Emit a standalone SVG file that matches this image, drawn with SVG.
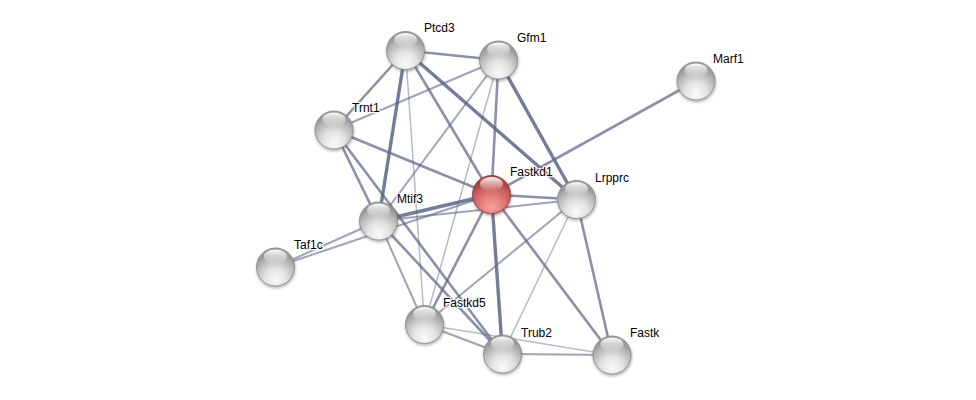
<svg xmlns="http://www.w3.org/2000/svg" width="976" height="400" viewBox="0 0 976 400">
<defs>
<radialGradient id="gGray" cx="50%" cy="78%" r="65%" fx="50%" fy="85%">
<stop offset="0" stop-color="#fbfbfb"/>
<stop offset="0.45" stop-color="#e2e2e2"/>
<stop offset="0.8" stop-color="#b8b8b8"/>
<stop offset="1" stop-color="#9a9a9a"/>
</radialGradient>
<radialGradient id="gRed" cx="50%" cy="78%" r="65%" fx="50%" fy="85%">
<stop offset="0" stop-color="#f8a0a0"/>
<stop offset="0.45" stop-color="#e57d7d"/>
<stop offset="0.8" stop-color="#c85c5c"/>
<stop offset="1" stop-color="#a84242"/>
</radialGradient>
<linearGradient id="gHi" x1="0" y1="0" x2="0" y2="1">
<stop offset="0" stop-color="#ffffff" stop-opacity="0.95"/>
<stop offset="1" stop-color="#ffffff" stop-opacity="0"/>
</linearGradient>
<filter id="sh" x="-30%" y="-30%" width="160%" height="160%">
<feGaussianBlur stdDeviation="1.5"/>
</filter>
<g id="nodeGray">
<circle cx="0.5" cy="1.8" r="19.5" fill="#555" opacity="0.45" filter="url(#sh)"/>
<circle r="19" fill="url(#gGray)" stroke="#8a8a8a" stroke-width="0.8"/>
<ellipse cx="0" cy="-10.5" rx="11.5" ry="7" fill="url(#gHi)"/>
</g>
<g id="nodeRed">
<circle cx="0.5" cy="1.8" r="19.5" fill="#552020" opacity="0.45" filter="url(#sh)"/>
<circle r="19" fill="url(#gRed)" stroke="#8e3a3a" stroke-width="0.8"/>
<ellipse cx="0" cy="-10.5" rx="11.5" ry="7" fill="url(#gHi)"/>
</g>
</defs>
<style>
.e{stroke:#5d6587;fill:none;stroke-linecap:butt}
.w1{stroke-width:1.5;stroke-opacity:0.45}
.w2{stroke-width:2;stroke-opacity:0.6}
.w3{stroke-width:2.6;stroke-opacity:0.72}
.w4{stroke-width:3.4;stroke-opacity:0.85}
.lbl{font-family:"Liberation Sans",Arial,sans-serif;font-size:12px;fill:#000;stroke:#fff;stroke-width:2.5;stroke-opacity:0.8;paint-order:stroke;stroke-linejoin:round}
</style>
<rect width="976" height="400" fill="#fff"/>
<g id="edges">
<line class="e w3" x1="405.5" y1="50.5" x2="498.5" y2="60"/>
<line class="e w3" x1="405.5" y1="50.5" x2="334" y2="130"/>
<line class="e w4" x1="405.5" y1="50.5" x2="378.5" y2="221"/>
<line class="e w1" x1="405.5" y1="50.5" x2="424.5" y2="324.5"/>
<line class="e w3" x1="405.5" y1="50.5" x2="491.5" y2="194.5"/>
<line class="e w4" x1="405.5" y1="50.5" x2="576.5" y2="199.5"/>
<line class="e w2" x1="498.5" y1="60" x2="334" y2="130"/>
<line class="e w2" x1="498.5" y1="60" x2="378.5" y2="221"/>
<line class="e w3" x1="498.5" y1="60" x2="491.5" y2="194.5"/>
<line class="e w1" x1="498.5" y1="60" x2="424.5" y2="324.5"/>
<line class="e w4" x1="498.5" y1="60" x2="576.5" y2="199.5"/>
<line class="e w3" x1="334" y1="130" x2="491.5" y2="194.5"/>
<line class="e w3" x1="334" y1="130" x2="378.5" y2="221"/>
<line class="e w3" x1="334" y1="130" x2="502.5" y2="354"/>
<line class="e w3" x1="696" y1="81" x2="491.5" y2="194.5"/>
<line class="e w4" x1="378.5" y1="221" x2="491.5" y2="194.5"/>
<line class="e w2" x1="378.5" y1="221" x2="576.5" y2="199.5"/>
<line class="e w2" x1="275.5" y1="267" x2="378.5" y2="221"/>
<line class="e w2" x1="275.5" y1="267" x2="491.5" y2="194.5"/>
<line class="e w3" x1="491.5" y1="194.5" x2="576.5" y2="199.5"/>
<line class="e w3" x1="491.5" y1="194.5" x2="424.5" y2="324.5"/>
<line class="e w4" x1="491.5" y1="194.5" x2="502.5" y2="354"/>
<line class="e w3" x1="491.5" y1="194.5" x2="612" y2="355"/>
<line class="e w2" x1="576.5" y1="199.5" x2="424.5" y2="324.5"/>
<line class="e w1" x1="576.5" y1="199.5" x2="502.5" y2="354"/>
<line class="e w3" x1="576.5" y1="199.5" x2="612" y2="355"/>
<line class="e w2" x1="424.5" y1="324.5" x2="502.5" y2="354"/>
<line class="e w1" x1="424.5" y1="324.5" x2="612" y2="355"/>
<line class="e w2" x1="502.5" y1="354" x2="612" y2="355"/>
<line class="e w2" x1="378.5" y1="221" x2="424.5" y2="324.5"/>
<line class="e w3" x1="378.5" y1="221" x2="502.5" y2="354"/>
</g>
<g id="Ptcd3"><use href="#nodeGray" x="405.5" y="50.5"/><text class="lbl" x="424" y="32">Ptcd3</text></g>
<g id="Gfm1"><use href="#nodeGray" x="498.5" y="60"/><text class="lbl" x="517" y="42">Gfm1</text></g>
<g id="Marf1"><use href="#nodeGray" x="696" y="81"/><text class="lbl" x="713" y="63">Marf1</text></g>
<g id="Trnt1"><use href="#nodeGray" x="334" y="130"/><text class="lbl" x="352" y="112">Trnt1</text></g>
<g id="Fastkd1"><use href="#nodeRed" x="491.5" y="194.5"/><text class="lbl" x="510" y="176">Fastkd1</text></g>
<g id="Lrpprc"><use href="#nodeGray" x="576.5" y="199.5"/><text class="lbl" x="595" y="182">Lrpprc</text></g>
<g id="Mtif3"><use href="#nodeGray" x="378.5" y="221"/><text class="lbl" x="397" y="203">Mtif3</text></g>
<g id="Taf1c"><use href="#nodeGray" x="275.5" y="267"/><text class="lbl" x="294" y="249">Taf1c</text></g>
<g id="Fastkd5"><use href="#nodeGray" x="424.5" y="324.5"/><text class="lbl" x="443" y="307">Fastkd5</text></g>
<g id="Trub2"><use href="#nodeGray" x="502.5" y="354"/><text class="lbl" x="521" y="337">Trub2</text></g>
<g id="Fastk"><use href="#nodeGray" x="612" y="355"/><text class="lbl" x="630" y="337">Fastk</text></g>
</svg>
